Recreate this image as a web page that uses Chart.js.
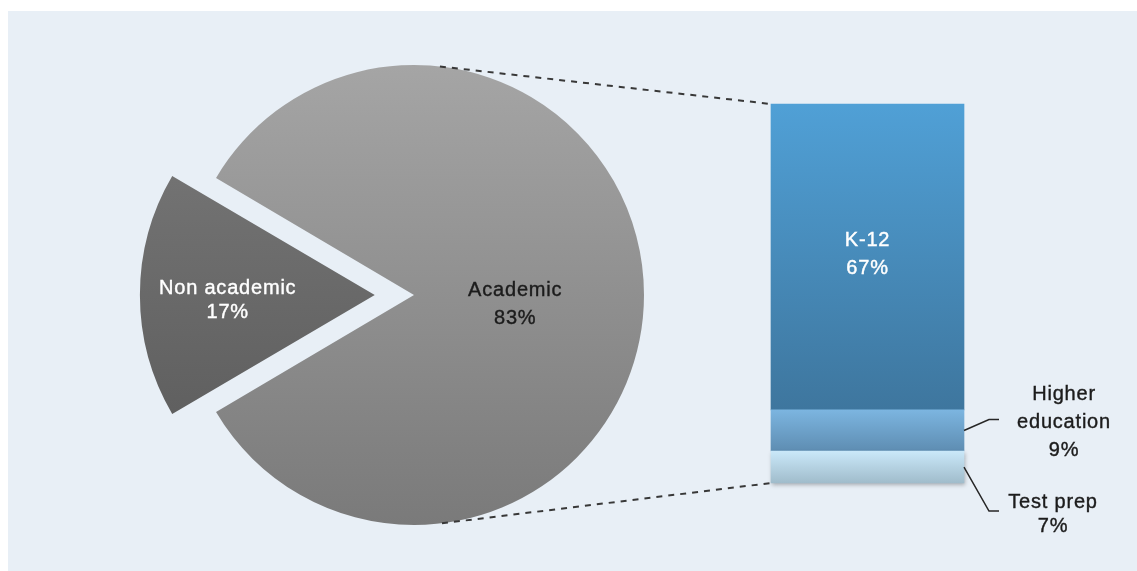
<!DOCTYPE html>
<html>
<head>
<meta charset="utf-8">
<script src="https://cdn.jsdelivr.net/npm/chart.js@4.4.1/dist/chart.umd.min.js"></script>
<style>
  html, body { margin: 0; padding: 0; background: #fff; }
  #wrap { position: relative; width: 1137px; height: 571px; overflow: hidden; }
  #panel { position: absolute; left: 8px; top: 11px; right: 0; bottom: 0; background: #e8eff6; }
  canvas { position: absolute; left: 0; top: 0; }
</style>
</head>
<body>
<div id="wrap">
  <div id="panel"></div>
  <canvas id="pie" width="1137" height="571"></canvas>
  <canvas id="bar" width="1137" height="571"></canvas>
</div>
<script>
// share of the market, academic vs non academic (%)
const pieLabels = ["Academic", "Non academic"];
const pieValues = [83, 17];

// academic slice broken down, stacked from the bottom up (%)
const barLabels = ["Test prep", "Higher education", "K-12"];
const barValues = [7, 9, 67];

const FONT = "20px 'Liberation Sans', Arial, sans-serif";
const PIE_R = 230;
const pieColors = [["#a5a5a5", "#7a7a7a"], ["#7b7b7b", "#575757"]];
const barColors = [["#cae8f9", "#a0bccb"], ["#7cb5e0", "#5e8db2"], ["#50a0d6", "#3e769e"]];

const sum = (arr) => arr.reduce((a, b) => a + b, 0);

// multi-line centred text, lightly stroked to give it some weight
function drawLines(ctx, lines, x, y, lineH, color) {
  ctx.save();
  ctx.font = FONT;
  ctx.letterSpacing = "0.8px";
  ctx.fillStyle = color;
  ctx.strokeStyle = color;
  ctx.lineWidth = 0.4;
  ctx.textAlign = "center";
  ctx.textBaseline = "middle";
  const top = y - ((lines.length - 1) * lineH) / 2;
  lines.forEach((t, i) => {
    ctx.fillText(t, x, top + i * lineH);
    ctx.strokeText(t, x, top + i * lineH);
  });
  ctx.restore();
}

// break a label into lines no wider than maxW
function wrap(ctx, text, maxW) {
  ctx.save();
  ctx.font = FONT;
  const out = [];
  let line = "";
  text.split(" ").forEach((w) => {
    const test = line ? line + " " + w : w;
    if (line && ctx.measureText(test).width > maxW) {
      out.push(line);
      line = w;
    } else {
      line = test;
    }
  });
  out.push(line);
  ctx.restore();
  return out;
}

function pieFill(chart, i) {
  const area = chart.chartArea;
  if (!area) return pieColors[i][1];
  const cy = (area.top + area.bottom) / 2;
  const g = chart.ctx.createLinearGradient(0, cy - PIE_R, 0, cy + PIE_R);
  g.addColorStop(0, pieColors[i][0]);
  g.addColorStop(1, pieColors[i][1]);
  return g;
}

// labels sitting on the pie slices
const pieLabelPlugin = {
  id: "pieLabels",
  afterDatasetsDraw(chart) {
    const ctx = chart.ctx;
    const meta = chart.getDatasetMeta(0);
    const place = [
      { dist: 0.44, lineH: 28, color: "#1c1c1c", dy: 9 },
      { dist: 0.81, lineH: 24, color: "#ffffff", dy: 5 },
    ];
    meta.data.forEach((arc, i) => {
      const { x, y, startAngle, endAngle, outerRadius } = arc.getProps(
        ["x", "y", "startAngle", "endAngle", "outerRadius"], true);
      const mid = (startAngle + endAngle) / 2;
      const d = outerRadius * place[i].dist;
      drawLines(ctx, [pieLabels[i], pieValues[i] + "%"],
        x + Math.cos(mid) * d, y + Math.sin(mid) * d + place[i].dy,
        place[i].lineH, place[i].color);
    });
  },
};

const pieChart = new Chart(document.getElementById("pie"), {
  type: "pie",
  data: {
    labels: pieLabels,
    datasets: [{
      data: pieValues,
      backgroundColor: (c) => pieFill(c.chart, c.dataIndex),
      borderWidth: 0,
      offset: [0, 157],
      hoverOffset: 0,
      clip: false,
    }],
  },
  options: {
    responsive: false,
    animation: false,
    events: [],
    radius: PIE_R,
    rotation: 90 - (pieValues[0] / sum(pieValues)) * 180,
    layout: { padding: { left: 0, right: 309, top: 19, bottom: 0 } },
    plugins: { legend: { display: false }, tooltip: { enabled: false } },
  },
  plugins: [pieLabelPlugin],
});

function barFill(chart, i) {
  const y = chart.scales.y;
  if (!y) return barColors[i][1];
  const start = sum(barValues.slice(0, i));
  const top = y.getPixelForValue(start + barValues[i]);
  const bottom = y.getPixelForValue(start);
  if (!isFinite(top) || !isFinite(bottom)) return barColors[i][1];
  const g = chart.ctx.createLinearGradient(0, top, 0, bottom);
  g.addColorStop(0, barColors[i][0]);
  g.addColorStop(1, barColors[i][1]);
  return g;
}

// point where a line from (px,py) touches the circle
function tangentPoint(cx, cy, r, px, py, side) {
  const dx = px - cx, dy = py - cy;
  const d = Math.hypot(dx, dy);
  const a = Math.atan2(dy, dx) + side * Math.acos(r / d);
  return [cx + r * Math.cos(a), cy + r * Math.sin(a)];
}

// connectors, leader lines and segment labels for the bar
const barDecor = {
  id: "barDecor",
  beforeDatasetDraw(chart, args) {
    if (args.index !== 0) return;
    const ctx = chart.ctx;
    ctx.save();
    ctx.shadowColor = "rgba(0,0,0,0.28)";
    ctx.shadowBlur = 4;
    ctx.shadowOffsetX = 1;
    ctx.shadowOffsetY = 2;
  },
  afterDatasetDraw(chart, args) {
    if (args.index === 0) chart.ctx.restore();
  },
  afterDatasetsDraw(chart) {
    const ctx = chart.ctx;
    const bars = barLabels.map((_, i) => chart.getDatasetMeta(i).data[0]);
    const topBar = bars[bars.length - 1];
    const left = topBar.x - topBar.width / 2;
    const right = topBar.x + topBar.width / 2;
    const top = topBar.y;
    const bottom = bars[0].base;

    // dashed lines from the pie to the bar
    const arc = pieChart.getDatasetMeta(0).data[0];
    const p1 = tangentPoint(arc.x, arc.y, arc.outerRadius, left, top, -1);
    const p2 = tangentPoint(arc.x, arc.y, arc.outerRadius, left, bottom, 1);
    ctx.save();
    ctx.strokeStyle = "#383838";
    ctx.lineWidth = 2;
    ctx.setLineDash([6, 6]);
    ctx.beginPath();
    ctx.moveTo(p1[0], p1[1]);
    ctx.lineTo(left, top);
    ctx.moveTo(p2[0], p2[1]);
    ctx.lineTo(left, bottom);
    ctx.stroke();
    ctx.restore();

    // K-12 label inside its segment
    const k = bars[2];
    drawLines(ctx, [barLabels[2], barValues[2] + "%"], k.x, (k.y + k.base) / 2 - 2, 28, "#ffffff");

    // outside labels with elbow leaders
    const outside = [
      { i: 1, dy: -11, textDx: 100, lineH: 28 },
      { i: 0, dy: 44, textDx: 89, lineH: 24 },
    ];
    outside.forEach(({ i, dy, textDx, lineH }) => {
      const b = bars[i];
      const midY = (b.y + b.base) / 2;
      const elbowY = midY + dy;
      ctx.save();
      ctx.strokeStyle = "#262626";
      ctx.lineWidth = 1.5;
      ctx.beginPath();
      ctx.moveTo(right, midY);
      ctx.lineTo(right + 25, elbowY);
      ctx.lineTo(right + 35, elbowY);
      ctx.stroke();
      ctx.restore();
      const lines = wrap(ctx, barLabels[i], 115).concat(barValues[i] + "%");
      drawLines(ctx, lines, right + textDx, elbowY + 3, lineH, "#1c1c1c");
    });
  },
};

new Chart(document.getElementById("bar"), {
  type: "bar",
  data: {
    labels: ["Academic"],
    datasets: barLabels.map((name, i) => ({
      label: name,
      data: [barValues[i]],
      backgroundColor: (c) => barFill(c.chart, i),
      borderWidth: 0,
      barPercentage: 1,
      categoryPercentage: 1,
      clip: false,
    })),
  },
  options: {
    responsive: false,
    animation: false,
    events: [],
    layout: { padding: { left: 771, right: 173, top: 104, bottom: 88 } },
    scales: {
      x: { stacked: true, display: false },
      y: { stacked: true, display: false, min: 0, max: sum(barValues) },
    },
    plugins: { legend: { display: false }, tooltip: { enabled: false } },
  },
  plugins: [barDecor],
});
</script>
</body>
</html>
